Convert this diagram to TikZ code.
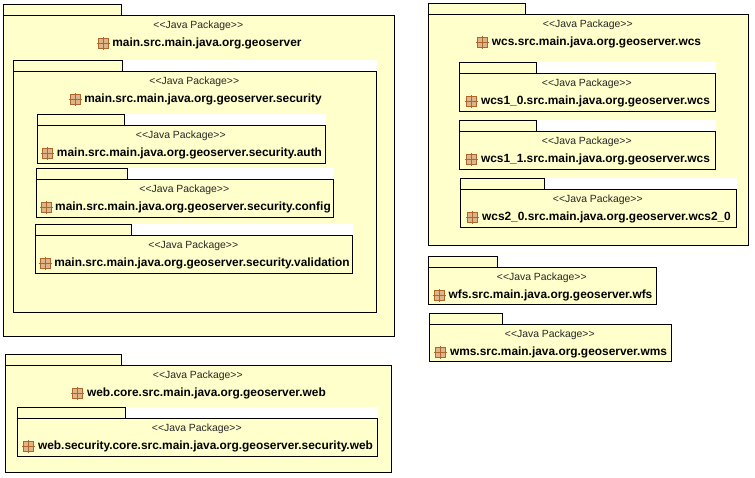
\documentclass[tikz,border=0pt]{standalone}
\usepackage{fontspec}
\setmainfont{Liberation Sans}
\usetikzlibrary{calc}
\definecolor{pkgfill}{HTML}{FFFFCC}
\definecolor{iconbrown}{HTML}{B0652A}
\definecolor{iconfill}{HTML}{DDB58C}
\tikzset{
  pkgbox/.style={draw=black,fill=pkgfill,line width=1pt},
  stereo/.style={font=\fontsize{10.4}{12}\selectfont,inner sep=0pt,text=black!85},
  pkgname/.style={font=\fontsize{11.9}{14}\selectfont,inner sep=0pt,text=black},
}
% #1 id, #2 tab right, #3 x0, #4 body top, #5 x1, #6 y1, #7 name
\newcommand{\pkgdraw}[7]{%
  \fill[white] (#3,-#4+11) rectangle (#5,-#4);
  \draw[pkgbox] (#3,-#4+11) rectangle (#2,-#4);
  \node[pkgbox,minimum width=#5pt-#3pt-0.6pt,minimum height=#6pt-#4pt-0.6pt,inner sep=0pt,anchor=north west] (#1) at (#3,-#4) {};
  \node[stereo] (#1s) at ({(#3+#5)/2-0.7},-#4-10.6) {{<}{<}Java Package{>}{>}};
  \node[pkgname,xshift=8pt] (#1n) at ({(#3+#5)/2},-#4-28.2) {\textbf{#7}};
  \begin{scope}[shift={($(#1n.west)+(-9,-0.2)$)}]
    \fill[iconfill] (-5,-5) rectangle (5,5);
    \draw[iconbrown,line width=.9pt] (-5,-5) rectangle (5,5);
    \draw[iconbrown,line width=.9pt] (-6.5,0) -- (6.5,0) (0,-6.5) -- (0,6.5);
  \end{scope}
}
\begin{document}
\begin{tikzpicture}[x=1pt,y=1pt]
\useasboundingbox (0,0) rectangle (755,-477);
\pkgdraw{main}{121}{3}{15}{395}{337}{main.src.main.java.org.geoserver}
\pkgdraw{sec}{122}{13}{71}{377}{313}{main.src.main.java.org.geoserver.security}
\pkgdraw{auth}{124}{37}{125}{326}{164}{main.src.main.java.org.geoserver.security.auth}
\pkgdraw{conf}{127}{36}{179}{334}{218}{main.src.main.java.org.geoserver.security.config}
\pkgdraw{valid}{131}{35}{235}{353}{274}{main.src.main.java.org.geoserver.security.validation}
\pkgdraw{web}{121}{5}{365}{392}{473}{web.core.src.main.java.org.geoserver.web}
\pkgdraw{websec}{125}{17}{418}{378}{457}{web.security.core.src.main.java.org.geoserver.security.web}
\pkgdraw{wcs}{525}{428}{14}{749}{246}{wcs.src.main.java.org.geoserver.wcs}
\pkgdraw{wcsa}{536}{459}{73}{716}{112}{wcs1\_0.src.main.java.org.geoserver.wcs}
\pkgdraw{wcsb}{536}{459}{131}{716}{170}{wcs1\_1.src.main.java.org.geoserver.wcs}
\pkgdraw{wcsc}{544}{460}{189}{737}{228}{wcs2\_0.src.main.java.org.geoserver.wcs2\_0}
\pkgdraw{wfs}{497}{428}{267}{657}{305}{wfs.src.main.java.org.geoserver.wfs}
\pkgdraw{wms}{502}{429}{324}{672}{362}{wms.src.main.java.org.geoserver.wms}
\end{tikzpicture}
\end{document}
